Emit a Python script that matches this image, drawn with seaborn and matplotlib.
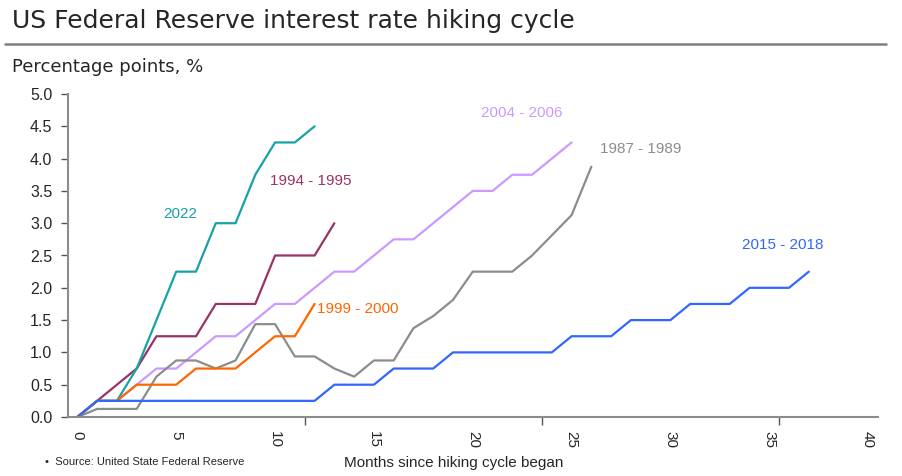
import pandas as pd
import matplotlib
matplotlib.use("Agg")
import matplotlib.pyplot as plt
import seaborn as sns

# ── dados (pontos percentuais acumulados por mês desde o início do ciclo) ──
meses_1987 = list(range(0, 27))
ciclo_1987 = [0, 0.125, 0.125, 0.125, 0.625, 0.875, 0.875, 0.75, 0.875, 1.4375,
              1.4375, 0.9375, 0.9375, 0.75, 0.625, 0.875, 0.875, 1.375, 1.5625,
              1.8125, 2.25, 2.25, 2.25, 2.5, 2.8125, 3.125, 3.875]

meses_1994 = list(range(0, 14))
ciclo_1994 = [0, 0.25, 0.5, 0.75, 1.25, 1.25, 1.25, 1.75, 1.75, 1.75, 2.5, 2.5, 2.5, 3.0]

meses_1999 = list(range(0, 13))
ciclo_1999 = [0, 0.25, 0.25, 0.5, 0.5, 0.5, 0.75, 0.75, 0.75, 1.0, 1.25, 1.25, 1.75]

meses_2004 = list(range(0, 26))
ciclo_2004 = [0, 0.25, 0.25, 0.5, 0.75, 0.75, 1.0, 1.25, 1.25, 1.5, 1.75, 1.75, 2.0,
              2.25, 2.25, 2.5, 2.75, 2.75, 3.0, 3.25, 3.5, 3.5, 3.75, 3.75, 4.0, 4.25]

meses_2015 = list(range(0, 38))
ciclo_2015 = [0] + [0.25] * 12 + [0.5] * 3 + [0.75] * 3 + [1.0] * 6 + [1.25] * 3 + \
             [1.5] * 3 + [1.75] * 3 + [2.0] * 3 + [2.25]

meses_2022 = list(range(0, 13))
ciclo_2022 = [0, 0.25, 0.25, 0.75, 1.5, 2.25, 2.25, 3.0, 3.0, 3.75, 4.25, 4.25, 4.5]

nomes = ['2004 - 2006', '1987 - 1989', '1994 - 1995', '2022', '1999 - 2000', '2015 - 2018']
cores = ['#CC99FF', '#8C8C8C', '#993366', '#17A2A6', '#FF6600', '#3366FF']

# posição dos rótulos (mês, valor)
rotulo_x = [22.5, 28.5, 11.8, 5.2, 14.2, 35.7]
rotulo_y = [4.71, 4.15, 3.66, 3.14, 1.67, 2.67]

series = {
    '2004 - 2006': (meses_2004, ciclo_2004),
    '1987 - 1989': (meses_1987, ciclo_1987),
    '1994 - 1995': (meses_1994, ciclo_1994),
    '2022': (meses_2022, ciclo_2022),
    '1999 - 2000': (meses_1999, ciclo_1999),
    '2015 - 2018': (meses_2015, ciclo_2015),
}

linhas = []
for nome in nomes:
    mx, vy = series[nome]
    linhas.append(pd.DataFrame({'mes': mx, 'valor': vy, 'ciclo': nome}))
df = pd.concat(linhas, ignore_index=True)

# ── gráfico ──
sns.set_theme(style="white")
plt.rcParams['font.family'] = ['sans-serif']
plt.rcParams['font.sans-serif'] = ['Liberation Sans', 'DejaVu Sans']

fig = plt.figure(figsize=(9.02, 4.76), dpi=100)
ax = fig.add_axes([67.5 / 902, 59 / 476, (878 - 67.5) / 902, (417 - 94) / 476])

sns.lineplot(data=df, x='mes', y='valor', hue='ciclo', hue_order=nomes,
             palette=dict(zip(nomes, cores)), linewidth=1.6, legend=False, ax=ax)

for nome, cor, lx, ly in zip(nomes, cores, rotulo_x, rotulo_y):
    ax.text(lx, ly, nome, color=cor, fontsize=11, ha='center', va='center')

ax.set_xlim(-0.5, 40.5)
ax.set_ylim(0, 5)
ax.set_yticks([i * 0.5 for i in range(11)])
ax.set_yticklabels([f'{i * 0.5:.1f}' for i in range(11)], fontsize=11.5)

# rótulos a cada 5 meses (sem marca), marcas a cada 12 categorias
ax.set_xticks([11.5, 23.5, 35.5])
ax.set_xticklabels([])
ax.set_xticks(list(range(0, 41, 5)), minor=True)
ax.set_xticklabels([str(v) for v in range(0, 41, 5)], minor=True,
                   rotation=-90, fontsize=11)
ax.tick_params(axis='x', which='major', direction='out', length=6, width=1,
               color='#555555', bottom=True)
ax.tick_params(axis='x', which='minor', length=0, pad=10, bottom=True)
ax.tick_params(axis='y', direction='out', length=5, width=1, color='#555555',
               left=True, pad=6)

for lado in ['top', 'right']:
    ax.spines[lado].set_visible(False)
for lado in ['left', 'bottom']:
    ax.spines[lado].set_color('#8C8C8C')
    ax.spines[lado].set_linewidth(1.5)
ax.set_xlabel('')
ax.set_ylabel('')
ax.grid(False)

fig.text(12 / 902, 1 - 21 / 476, 'US Federal Reserve interest rate hiking cycle',
         fontsize=18, va='center', ha='left', family=['DejaVu Sans'])
fig.add_artist(plt.Line2D([5 / 902, 886 / 902], [1 - 44 / 476, 1 - 44 / 476],
                          color='#7F7F7F', linewidth=1.8))
fig.text(12 / 902, 1 - 67 / 476, 'Percentage points, %', fontsize=13,
         va='center', ha='left', family=['DejaVu Sans'])
fig.text(454 / 902, 1 - 463 / 476, 'Months since hiking cycle began', fontsize=11,
         va='center', ha='center')
fig.text(45 / 902, 1 - 462 / 476, '•  Source: United State Federal Reserve',
         fontsize=8, va='center', ha='left')

fig.savefig('out.png', dpi=100)
